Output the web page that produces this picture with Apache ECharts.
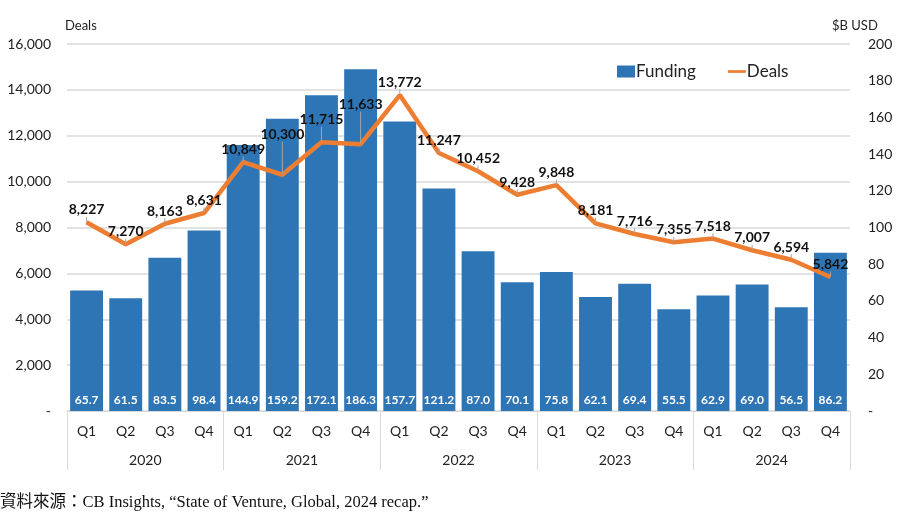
<!DOCTYPE html>
<html lang="zh-Hant">
  <head>
    <meta charset="utf-8" />
    <title>Venture funding and deals</title>
    <script src="https://cdn.jsdelivr.net/npm/echarts@6/dist/echarts.min.js"></script>
    <style>
      html, body { margin: 0; padding: 0; background: #fff; }
      #chart { width: 900px; height: 532px; }
    </style>
  </head>
  <body>
    <div id="chart"></div>
    <script>
      var quarters = ['Q1', 'Q2', 'Q3', 'Q4', 'Q1', 'Q2', 'Q3', 'Q4', 'Q1', 'Q2', 'Q3', 'Q4',
        'Q1', 'Q2', 'Q3', 'Q4', 'Q1', 'Q2', 'Q3', 'Q4']
      var years = ['2020', '2021', '2022', '2023', '2024']
      // $B USD, right axis
      var funding = [65.7, 61.5, 83.5, 98.4, 144.9, 159.2, 172.1, 186.3, 157.7, 121.2,
        87.0, 70.1, 75.8, 62.1, 69.4, 55.5, 62.9, 69.0, 56.5, 86.2]
      // deal count, left axis
      var deals = [8227, 7270, 8163, 8631, 10849, 10300, 11715, 11633, 13772, 11247,
        10452, 9428, 9848, 8181, 7716, 7355, 7518, 7007, 6594, 5842]
      var source = '資料來源：CB Insights, “State of Venture, Global, 2024 recap.”'

      var font = 'Lato, "Noto Sans", sans-serif'
      var gridColor = '#d9d9d9'

      // lift a deal label above its left neighbour when the two collide
      var prevRect = null
      function liftOverlap (p) {
        var r = p.labelRect
        if (p.dataIndex === 0) prevRect = null
        var dy = 0
        if (prevRect && r.x < prevRect.x + prevRect.width && r.y < prevRect.y + prevRect.height &&
            r.y + r.height > prevRect.y) {
          dy = prevRect.y - (r.y + r.height) - 1
        }
        prevRect = { x: r.x, y: r.y + dy, width: r.width, height: r.height }
        return { dy: dy }
      }

      var chart = echarts.init(document.getElementById('chart'))
      chart.setOption({
        animation: false,
        textStyle: { fontFamily: font },
        grid: { left: 67, right: 50, top: 44, bottom: 121 },
        legend: {
          data: [
            { name: 'Funding', icon: 'rect' },
            // flat line marker, no dot
            { name: 'Deals', icon: 'path://M0,0 M20,12 M0,4.5 L20,4.5 L20,7.5 L0,7.5 Z' }
          ],
          left: 612,
          top: 58,
          itemGap: 32,
          itemWidth: 18,
          itemHeight: 12,
          textStyle: { fontSize: 17, color: '#222', fontFamily: font, padding: [0, 0, 0, -4] }
        },
        xAxis: [
          {
            type: 'category',
            data: quarters,
            position: 'bottom',
            axisLine: { lineStyle: { color: gridColor } },
            axisTick: { show: false },
            axisLabel: { fontSize: 14, color: '#222', margin: 13 }
          },
          {
            type: 'category',
            data: years,
            position: 'bottom',
            axisLine: { show: false },
            axisTick: { show: true, length: 59, lineStyle: { color: gridColor } },
            axisLabel: { fontSize: 14, color: '#222', margin: 42 }
          }
        ],
        yAxis: [
          {
            type: 'value',
            min: 0,
            max: 16000,
            interval: 2000,
            name: 'Deals',
            nameLocation: 'end',
            nameGap: 12,
            nameTextStyle: { fontSize: 13, color: '#222', align: 'left', padding: [0, 0, 0, -2] },
            axisLine: { show: false },
            axisTick: { show: false },
            splitLine: { lineStyle: { color: gridColor, width: 1.5 } },
            axisLabel: {
              fontSize: 14,
              color: '#222',
              margin: 16,
              formatter: function (v) { return v === 0 ? '-' : v.toLocaleString('en-US') }
            }
          },
          {
            type: 'value',
            min: 0,
            max: 200,
            interval: 20,
            name: '$B USD',
            nameLocation: 'end',
            nameGap: 12,
            nameTextStyle: { fontSize: 13, color: '#222', align: 'left', padding: [0, 0, 0, -18] },
            axisLine: { show: false },
            axisTick: { show: false },
            splitLine: { show: false },
            axisLabel: {
              fontSize: 14,
              color: '#222',
              margin: 18,
              formatter: function (v) { return v === 0 ? '-' : String(v) }
            }
          }
        ],
        series: [
          {
            name: 'Funding',
            type: 'bar',
            yAxisIndex: 1,
            data: funding,
            barCategoryGap: '16%',
            itemStyle: { color: '#2e75b6' },
            label: {
              show: true,
              position: 'insideBottom',
              distance: 5,
              color: '#fff',
              fontWeight: 'bold',
              fontSize: 12,
              formatter: function (p) { return p.value.toFixed(1) }
            }
          },
          {
            name: 'Deals',
            type: 'line',
            yAxisIndex: 0,
            data: deals,
            symbol: 'circle',
            symbolSize: 1,
            showSymbol: true,
            lineStyle: { color: '#ed7d31', width: 4.5 },
            itemStyle: { color: '#ed7d31' },
            label: {
              show: true,
              position: 'top',
              offset: [-2, -3],
              color: '#111',
              fontWeight: 'bold',
              fontSize: 14,
              formatter: function (p) { return p.value.toLocaleString('en-US') }
            },
            labelLayout: liftOverlap,
            labelLine: { show: true, lineStyle: { color: '#a6a6a6', width: 1 } },
            z: 3
          }
        ],
        graphic: [
          {
            type: 'text',
            left: 0,
            top: 494,
            style: {
              text: source,
              fontSize: 16.5,
              fill: '#111',
              fontFamily: '"Liberation Serif", "Noto Sans CJK TC", serif'
            }
          }
        ]
      })
    </script>
  </body>
</html>
